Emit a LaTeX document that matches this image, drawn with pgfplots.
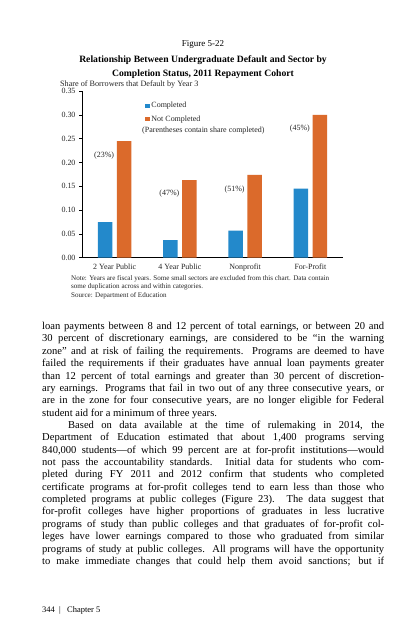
\documentclass[border=0pt]{standalone}
\usepackage{fontspec}
\setmainfont{Liberation Serif}
\usepackage{pgfplots}
\pgfplotsset{compat=1.18}
\definecolor{cblue}{HTML}{2389CB}
\definecolor{corange}{HTML}{DB6A2B}
\pgfplotsset{sqlegend/.style={legend image code/.code={\fill[##1] (0bp,-2.2bp) rectangle (4.4bp,2.2bp);}}}
\begin{document}
\begin{tikzpicture}[x=1bp,y=1bp]
\useasboundingbox (0,0) rectangle (412,-640);
\fill[white] (0,0) rectangle (412,-640);
\node[font=\fontsize{9}{10}\selectfont] at (203,-45) {Figure 5-22};
\node[font=\fontsize{9.7}{13.5}\selectfont\bfseries, align=center] at (203,-67) {Relationship Between Undergraduate Default and Sector by\\Completion Status, 2011 Repayment Cohort};
\node[anchor=west, font=\fontsize{8.2}{9}\selectfont, inner sep=0, text=black!85] at (60,-84.5) {Share of Borrowers that Default by Year 3};
\begin{axis}[
  at={(82bp,-257.7bp)}, anchor=south west,
  scale only axis, width=261bp, height=166.5bp,
  ybar,
  xmin=-0.5, xmax=3.5, ymin=0, ymax=0.35,
  axis lines=left, axis line style={-, black, line width=0.8bp},
  xtick={0,1,2,3}, xticklabels={2 Year Public, 4 Year Public, Nonprofit, For-Profit},
  x tick style={draw=none},
  ytick={0,0.05,0.10,0.15,0.20,0.25,0.30,0.35},
  y tick label style={/pgf/number format/.cd, fixed, fixed zerofill, precision=2, assume math mode=true},
  tick label style={font=\fontsize{8}{9}\selectfont, text=black!85},
  y tick style={black, line width=0.6bp},
  major tick length=3bp, tick align=outside,
  legend style={at={(0.241,0.947)}, anchor=north west, draw=none, fill=none, inner sep=0pt,
    font=\fontsize{8}{9}\selectfont, text=black!85, row sep=2.5bp, legend cell align=left},
  clip=false,
]
\addplot[fill=cblue, draw=none, bar width=14.4bp, bar shift=-9.5bp, sqlegend]
  coordinates {(0,0.075) (1,0.037) (2,0.057) (3,0.145)};
\addlegendentry{Completed}
\addplot[fill=corange, draw=none, bar width=14.4bp, bar shift=9.5bp, sqlegend]
  coordinates {(0,0.245) (1,0.163) (2,0.174) (3,0.300)};
\addlegendentry{Not Completed}
\addplot[draw=none, fill=none, bar width=0bp, bar shift=0bp, forget plot,
  nodes near coords, point meta=explicit symbolic,
  nodes near coords style={font=\fontsize{8}{9}\selectfont, text=black!85, anchor=center}]
  coordinates {(-0.16,0.214)[(23\%)] (0.84,0.135)[(47\%)] (1.84,0.144)[(51\%)] (2.84,0.272)[(45\%)]};
\node[anchor=west, font=\fontsize{8}{9}\selectfont, text=black!85, inner sep=0] at (rel axis cs:0.23,0.761) {(Parentheses contain share completed)};
\end{axis}
\node[anchor=north west, inner sep=0, font=\fontsize{7.1}{8.8}\selectfont, align=left, text=black!85] at (71,-275) {Note: Years are fiscal years. Some small sectors are excluded from this chart. Data contain\\some duplication across and within categories.\\Source: Department of Education};
\node[anchor=north west, inner sep=0] at (42,-322) {\parbox{342bp}{\fontsize{10.6}{12.4}\selectfont
\hbox to \linewidth{loan payments between 8 and 12 percent of total earnings, or between 20 and}
\hbox to \linewidth{30 percent of discretionary earnings, are considered to be “in the warning}
\hbox to \linewidth{zone” and at risk of failing the requirements. Programs are deemed to have}
\hbox to \linewidth{failed the requirements if their graduates have annual loan payments greater}
\hbox to \linewidth{than 12 percent of total earnings and greater than 30 percent of discretion-}
\hbox to \linewidth{ary earnings. Programs that fail in two out of any three consecutive years, or}
\hbox to \linewidth{are in the zone for four consecutive years, are no longer eligible for Federal}
\hbox to \linewidth{student aid for a minimum of three years.\hfil}
\hbox to \linewidth{\hskip 26bp Based on data available at the time of rulemaking in 2014, the}
\hbox to \linewidth{Department of Education estimated that about 1,400 programs serving}
\hbox to \linewidth{840,000 students—of which 99 percent are at for-profit institutions—would}
\hbox to \linewidth{not pass the accountability standards. Initial data for students who com-}
\hbox to \linewidth{pleted during FY 2011 and 2012 confirm that students who completed}
\hbox to \linewidth{certificate programs at for-profit colleges tend to earn less than those who}
\hbox to \linewidth{completed programs at public colleges (Figure 23). The data suggest that}
\hbox to \linewidth{for-profit colleges have higher proportions of graduates in less lucrative}
\hbox to \linewidth{programs of study than public colleges and that graduates of for-profit col-}
\hbox to \linewidth{leges have lower earnings compared to those who graduated from similar}
\hbox to \linewidth{programs of study at public colleges. All programs will have the opportunity}
\hbox to \linewidth{to make immediate changes that could help them avoid sanctions; but if}
}};
\node[anchor=west, inner sep=0, font=\fontsize{8.5}{10}\selectfont] at (42,-610) {344\enspace|\enspace\ Chapter 5};
\end{tikzpicture}
\end{document}
